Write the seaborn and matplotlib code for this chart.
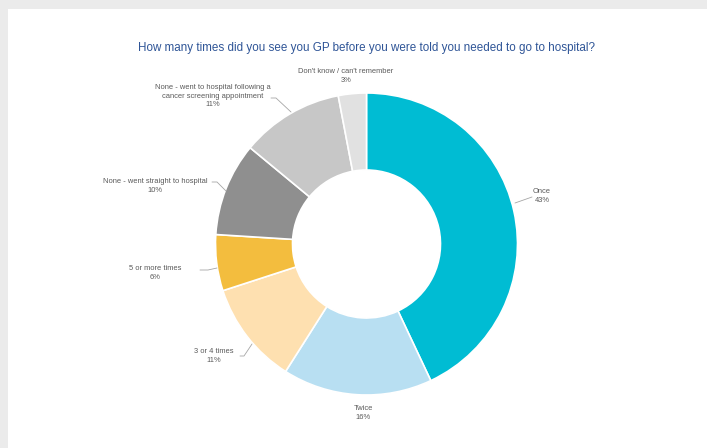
import matplotlib
matplotlib.use("Agg")
import matplotlib.pyplot as plt
import seaborn as sns
from matplotlib.patches import Rectangle

sns.set_theme(style="white")
plt.rcParams['font.family'] = ['Liberation Sans', 'DejaVu Sans']

categories = ["Once", "Twice", "3 or 4 times", "5 or more times",
              "None - went straight to hospital",
              "None - went to hospital following a\ncancer screening appointment",
              "Don't know / can't remember"]
values = [43, 16, 11, 6, 10, 11, 3]
colors = ["#00BCD3", "#B8DFF2", "#FEE0B0", "#F3BD3E", "#8F8F8F", "#C7C7C7", "#E1E1E1"]
title = "How many times did you see you GP before you were told you needed to go to hospital?"

W, H = 707, 448
fig = plt.figure(figsize=(W / 100, H / 100), dpi=100)
fig.patch.set_facecolor("#EBEBEB")
ax = fig.add_axes([0, 0, 1, 1])
ax.add_patch(Rectangle((8, 0), W - 8, H - 9, facecolor="white", edgecolor="none", zorder=0))

cx, cy, R = 366.5, H - 244, 151
wedges, _ = ax.pie(values, colors=colors, startangle=90, counterclock=False,
                   center=(cx, cy), radius=R, frame=True,
                   wedgeprops=dict(width=R * 0.51, edgecolor="white", linewidth=1.2))
ax.set_xlim(0, W)
ax.set_ylim(0, H)
ax.set_aspect("equal")
ax.axis("off")

ax.text(366, H - 48, title, ha="center", va="center", fontsize=8.35, color="#2F5597")

# label layout (pixel coords from top): text anchor, leader line points
layout = [
    dict(xy=(542, 196), line=[(532, 197), (515, 203)]),
    dict(xy=(363, 413), line=None),
    dict(xy=(214, 356), line=[(240, 356), (244, 356), (252, 344)]),
    dict(xy=(155, 273), line=[(200, 270), (208, 270), (217, 268)]),
    dict(xy=(155, 186), line=[(212, 182), (217, 182), (226, 191)]),
    dict(xy=(213, 96), line=[(271, 98), (276, 98), (291, 112)]),
    dict(xy=(346, 76), line=None),
]
for cat, val, lay in zip(categories, values, layout):
    x, y = lay["xy"]
    ax.text(x, H - y, f"{cat}\n{val}%", ha="center", va="center", fontsize=5.45,
            color="#595959", linespacing=1.3)
    if lay["line"]:
        xs = [p[0] for p in lay["line"]]
        ys = [H - p[1] for p in lay["line"]]
        ax.plot(xs, ys, color="#A6A6A6", lw=0.6)

fig.savefig("out.png", dpi=100, facecolor=fig.get_facecolor())
